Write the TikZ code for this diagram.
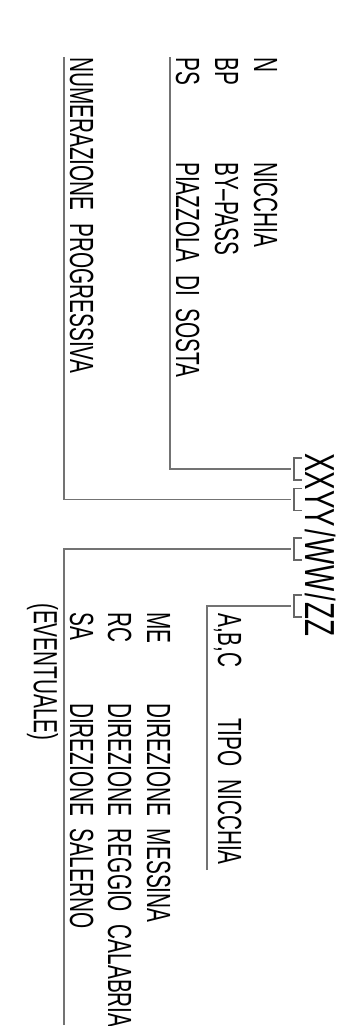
\documentclass[tikz,border=0pt]{standalone}
\usepackage{fontspec}
\setmainfont[FakeStretch=0.62,WordSpace=2.2]{Liberation Sans}
\newfontfamily\codefont[FakeStretch=0.66]{Liberation Sans}
\begin{document}
\begin{tikzpicture}[x=1pt,y=-1pt,
  lbl/.style={rotate=-90,anchor=base west,inner sep=0pt,font=\fontsize{33.5}{40}\selectfont},
  code/.style={rotate=-90,anchor=base west,inner sep=0pt,font=\codefont\fontsize{42}{50}\selectfont},
  conn/.style={draw=black!55,line width=1.3pt},
  brk/.style={draw=black!60,line width=1.3pt}]
\useasboundingbox (0,0) rectangle (343,1026);
% texts
\node[lbl] (n) at (254,57) {N};
\node[lbl] (nt) at (254,162) {NICCHIA};
\node[lbl] (bp) at (215,57) {BP};
\node[lbl] (bpt) at (215,162) {BY--PASS};
\node[lbl] (ps) at (176,57) {PS};
\node[lbl] (pst) at (176,162) {PIAZZOLA DI SOSTA};
\node[lbl] (num) at (70,57) {NUMERAZIONE PROGRESSIVA};
\node[code] (cod) at (305,453) {XXYY\kern2pt/\kern2pt WW\kern2pt/\kern2pt ZZ};
\node[lbl] (abc) at (218,613) {A,B,C};
\node[lbl] (tipo) at (218,718) {TIPO NICCHIA};
\node[lbl] (me) at (147,612) {ME};
\node[lbl] (met) at (147,703) {DIREZIONE MESSINA};
\node[lbl] (rc) at (108,612) {RC};
\node[lbl] (rct) at (108,703) {DIREZIONE REGGIO CALABRIA};
\node[lbl] (sa) at (70,612) {SA};
\node[lbl] (sat) at (70,703) {DIREZIONE SALERNO};
\node[lbl] (ev) at (34,603) {(EVENTUALE)};
% bracket attach points
\coordinate (b1) at (291,469);
\coordinate (b2) at (291,499.5);
\coordinate (b3) at (291,549);
\coordinate (b4) at (291,606);
\foreach \c in {469,499.5,549,606}{
  \draw[brk] (302,\c-11) -- (294,\c-11) -- (294,\c+11) -- (302,\c+11);
}
% leader line ends
\coordinate (t1) at (170,57);
\coordinate (t2) at (64,57);
\coordinate (t3) at (64,1025);
\coordinate (t4) at (207,870);
\draw[conn] (t1) |- (b1);
\draw[conn] (t2) |- (b2);
\draw[conn] (t3) |- (b3);
\draw[conn] (t4) |- (b4);
\end{tikzpicture}
\end{document}
